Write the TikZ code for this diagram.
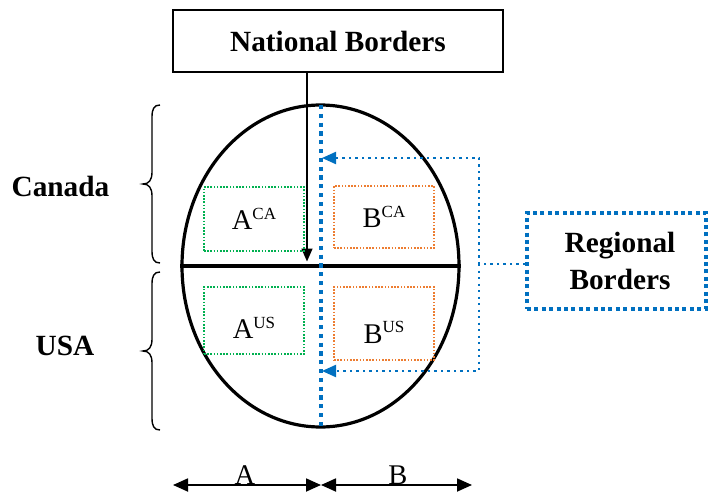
\documentclass[tikz,border=0pt]{standalone}
\usepackage{fontspec}
\setmainfont{Liberation Serif}
\usetikzlibrary{shapes.geometric,arrows.meta}
\definecolor{regblue}{HTML}{0070C0}
\definecolor{regorange}{HTML}{ED7D31}
\definecolor{reggreen}{HTML}{00B050}
\newcommand{\bigtxt}{\fontsize{28.5}{37}\selectfont}
\newcommand{\boldtxt}{\fontsize{29.3}{37}\selectfont\bfseries}
\newcommand{\supx}[1]{\raisebox{0.36em}{\fontsize{17}{17}\selectfont #1}}
\begin{document}
\begin{tikzpicture}[x=1pt,y=-1pt,
  lbl/.style={font=\boldtxt, inner sep=0pt},
  cell/.style={draw, line width=1.6pt, dash pattern=on 1.6pt off 1.6pt, minimum width=100pt, inner sep=0pt, font=\bigtxt},
  thinblue/.style={regblue, line width=2.2pt, dash pattern=on 2.2pt off 4.3pt},
  bluetip/.style={-{Triangle[length=14pt,width=12pt]}},
  dimarrow/.style={line width=1.8pt, {Triangle[length=15pt,width=13pt]}-{Triangle[length=15pt,width=13pt]}}
]
\useasboundingbox (0,0) rectangle (710,495);
% National borders box
\node[draw, line width=1.8pt, minimum width=330pt, minimum height=62pt, lbl, inner sep=0pt] (nb) at (338,41) {National Borders};
% ellipse
\node[ellipse, draw, line width=3.2pt, minimum width=277pt, minimum height=322pt, inner sep=0pt] (ell) at (320.5,266) {};
\draw[line width=3.2pt] (ell.west) -- (ell.east);
% regional vertical border
\coordinate (vt) at (321,105);
\coordinate (vb) at (321,427);
\draw[regblue, line width=4.2pt, dash pattern=on 4.2pt off 4.6pt] (vt) -- (vb);
% national arrow
\coordinate (natx) at (307,0);
\coordinate (natend) at (307,261.5);
\draw[line width=1.5pt, -{Triangle[length=13pt,width=11pt]}] (nb.south -| natx) -- (natend);
% cells
\node[cell, reggreen, minimum height=64pt] (aca) at (254,219) {};
\node[font=\bigtxt] (acat) at (aca.center) {A\supx{CA}};
\node[cell, reggreen, minimum height=67pt] (aus) at (254,320.5) {};
\node[font=\bigtxt] (aust) at ([yshift=-7pt]aus.center) {A\supx{US}};
\node[cell, regorange, minimum height=62pt] (bca) at (384,217) {};
\node[font=\bigtxt] (bcat) at (bca.center) {B\supx{CA}};
\node[cell, regorange, minimum height=73pt] (bus) at (384,323.5) {};
\node[font=\bigtxt] (bust) at ([yshift=-9pt]bus.center) {B\supx{US}};
% regional borders box
\node[draw=regblue, line width=3.8pt, dash pattern=on 4pt off 3.4pt, minimum width=179pt, minimum height=96pt, inner sep=0pt] (rb) at (616.5,261) {};
\node[lbl, align=center] (rbt) at (620,261) {Regional\\Borders};
% blue connectors
\coordinate (j) at (479,264);
\coordinate (tca) at (322,158);
\coordinate (tus) at (322,371);
\draw[thinblue] (j -| rb.west) -- (j);
\draw[thinblue, bluetip] (j) |- (tca);
\draw[thinblue, bluetip] (j) |- (tus);
% braces
\draw[line width=1.4pt] (160,105) .. controls (154,105) and (152,109) .. (152,117) -- (152,172) .. controls (152,180) and (149,184) .. (143,184) .. controls (149,184) and (152,188) .. (152,196) -- (152,251) .. controls (152,259) and (154,263) .. (160,263);
\draw[line width=1.4pt] (160,272) .. controls (154,272) and (152,276) .. (152,284) -- (152,339) .. controls (152,347) and (149,351) .. (143,351) .. controls (149,351) and (152,355) .. (152,363) -- (152,418) .. controls (152,426) and (154,430) .. (160,430);
\node[lbl] (can) at (60.5,186) {Canada};
\node[lbl] (usa) at (65,346) {USA};
% bottom dimension arrows
\coordinate (d0) at (173,485);
\coordinate (d1) at (321,485);
\coordinate (d2) at (472,485);
\draw[dimarrow] (d0) -- (d1);
\draw[dimarrow] (d1) -- (d2);
\node[font=\bigtxt, anchor=base, inner sep=0pt] (la) at (245,484) {A};
\node[font=\bigtxt, anchor=base, inner sep=0pt] (lb) at (398,484) {B};
\end{tikzpicture}
\end{document}
